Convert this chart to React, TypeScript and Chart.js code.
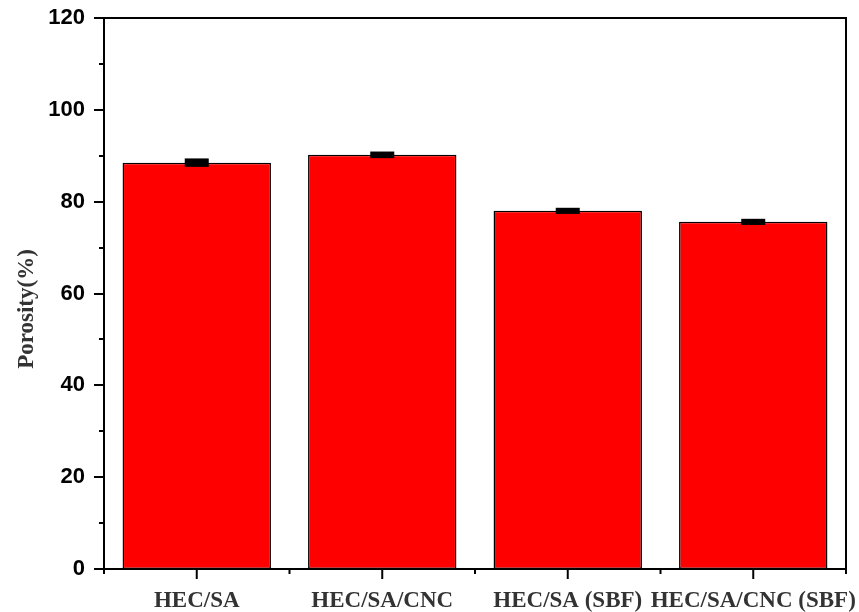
import React, { useEffect, useRef } from "react";
import { Chart, registerables } from "chart.js";

Chart.register(...registerables);

// Sample groups and measured porosity (%) with standard deviation
const categories = ["HEC/SA", "HEC/SA/CNC", "HEC/SA (SBF)", "HEC/SA/CNC (SBF)"];
const porosity = [88.5, 90.2, 78.0, 75.6];
const porosityErr = [0.7, 0.5, 0.45, 0.45];
const yTicks = [0, 20, 40, 60, 80, 100, 120];

const AXIS_COLOR = "#000";

// Frame, hand-drawn tick marks (major/minor), error bars and the y title
const decorPlugin = {
  id: "decor",
  afterDatasetsDraw(chart: any) {
    const { ctx, scales } = chart;
    const y = scales.y;
    const meta = chart.getDatasetMeta(0);
    ctx.save();
    ctx.fillStyle = "#000";
    meta.data.forEach((bar: any, i: number) => {
      const v = porosity[i];
      const e = porosityErr[i];
      const yTop = y.getPixelForValue(v + e);
      const yBot = y.getPixelForValue(v - e);
      const cx = bar.x;
      ctx.fillRect(cx - 12, yTop - 1, 24, Math.max(yBot - yTop, 0) + 2);
    });
    ctx.restore();
  },
  afterDraw(chart: any) {
    const { ctx, chartArea, scales } = chart;
    const { left, right, top, bottom } = chartArea;
    const x = scales.x;
    const y = scales.y;
    ctx.save();
    ctx.strokeStyle = AXIS_COLOR;
    ctx.lineWidth = 2;
    // frame
    ctx.beginPath();
    ctx.moveTo(left, top);
    ctx.lineTo(right, top);
    ctx.lineTo(right, bottom);
    ctx.lineTo(left, bottom);
    ctx.closePath();
    ctx.stroke();
    // y ticks: major every 20, minor every 10
    for (let v = 0; v <= 120; v += 10) {
      const py = Math.round(y.getPixelForValue(v));
      const len = v % 20 === 0 ? 10 : 5;
      ctx.beginPath();
      ctx.moveTo(left, py);
      ctx.lineTo(left - len, py);
      ctx.stroke();
    }
    // x ticks: major at category centres, minor at boundaries
    const n = categories.length;
    const step = (right - left) / n;
    for (let i = 0; i <= n; i++) {
      const px = left + i * step;
      ctx.beginPath();
      ctx.moveTo(px, bottom);
      ctx.lineTo(px, bottom + 5);
      ctx.stroke();
    }
    for (let i = 0; i < n; i++) {
      const px = x.getPixelForValue(i);
      ctx.beginPath();
      ctx.moveTo(px, bottom);
      ctx.lineTo(px, bottom + 10);
      ctx.stroke();
    }
    // y axis title
    ctx.translate(27, 309);
    ctx.rotate(-Math.PI / 2);
    ctx.fillStyle = "#333";
    ctx.font = "bold 23px 'Liberation Serif', 'Times New Roman', serif";
    ctx.textAlign = "center";
    ctx.textBaseline = "middle";
    ctx.fillText("Porosity(%)", 0, 0);
    ctx.restore();
  },
};

export default function App() {
  const canvasRef = useRef<HTMLCanvasElement | null>(null);

  useEffect(() => {
    document.body.style.margin = "0";
    const canvas = canvasRef.current;
    if (!canvas) return;
    const chart = new Chart(canvas, {
      type: "bar",
      data: {
        labels: categories,
        datasets: [
          {
            data: porosity,
            backgroundColor: "#ff0000",
            borderColor: "#000",
            borderWidth: 1.5,
            borderSkipped: false,
            barPercentage: 0.8,
            categoryPercentage: 1,
          },
        ],
      },
      options: {
        animation: false,
        responsive: false,
        maintainAspectRatio: false,
        devicePixelRatio: 1,
        layout: { padding: { left: 0, top: 18, right: 13, bottom: 0 } },
        plugins: {
          legend: { display: false },
          tooltip: { enabled: false },
        },
        scales: {
          x: {
            type: "category",
            offset: true,
            grid: { display: false, drawTicks: false },
            border: { display: false },
            ticks: {
              color: "#333",
              padding: 18,
              maxRotation: 0,
              autoSkip: false,
              font: { family: "'Liberation Serif', 'Times New Roman', serif", size: 23, weight: "bold" },
            },
            afterFit(scale: any) {
              scale.height = 43;
              scale.paddingLeft = 0;
              scale.paddingRight = 0;
            },
          },
          y: {
            min: 0,
            max: 120,
            grid: { display: false, drawTicks: false },
            border: { display: false },
            afterBuildTicks(scale: any) {
              scale.ticks = yTicks.map((v) => ({ value: v }));
            },
            ticks: {
              color: "#000",
              padding: 19,
              font: { family: "'Liberation Sans', Arial, sans-serif", size: 22, weight: "bold" },
            },
            afterFit(scale: any) {
              scale.width = 104;
              scale.paddingTop = 0;
              scale.paddingBottom = 0;
            },
          },
        },
      },
      plugins: [decorPlugin],
    });
    return () => chart.destroy();
  }, []);

  return (
    <div style={{ width: 859, height: 612 }}>
      <canvas ref={canvasRef} width={859} height={612} style={{ display: "block" }} />
    </div>
  );
}
